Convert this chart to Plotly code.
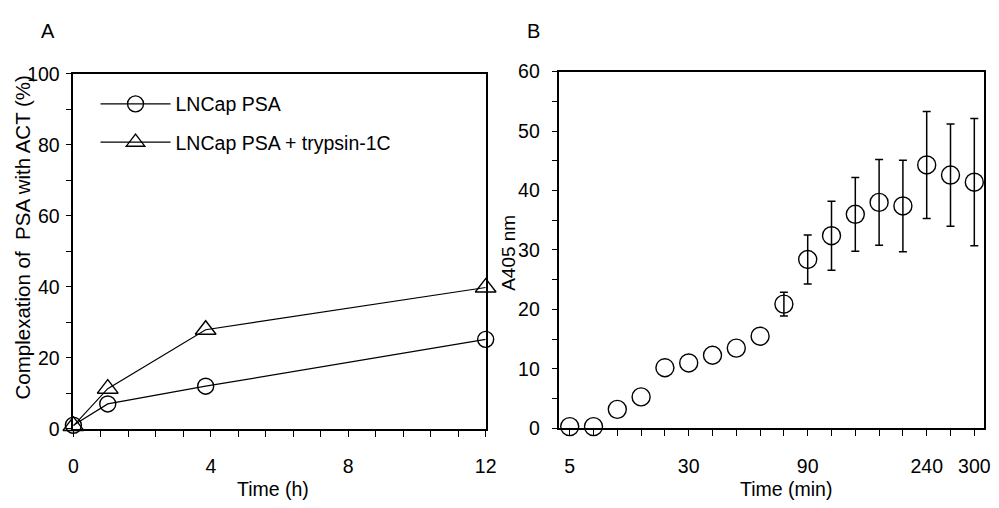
import plotly.graph_objects as go

# ---- Panel A: PSA–ACT complex formation over time ----
hours = [0, 1, 3.85, 12]
psa_lncap = [1.0, 7.0, 12.0, 25.2]
psa_lncap_trypsin = [0.8, 11.3, 27.9, 39.8]
a_xtick_labels = ["0", "4", "8", "12"]
a_xtick_label_pos = [0, 4, 8, 12]

# ---- Panel B: A405 readings at successive sampling times ----
b_sample = list(range(18))
a405 = [0.3, 0.3, 3.2, 5.3, 10.2, 11.0, 12.3, 13.5, 15.5,
        20.9, 28.4, 32.4, 36.0, 38.0, 37.4, 44.3, 42.6, 41.4]
a405_err = [None, None, None, None, None, None, None, None, None,
            2.0, 4.1, 5.8, 6.2, 7.2, 7.7, 9.0, 8.6, 10.7]
b_time_labels = ["5", "30", "90", "240", "300"]
b_time_label_idx = [0, 5, 10, 15, 17]

W, H = 999, 508
FONT = "Liberation Sans, Arial, sans-serif"
BLACK = "#000000"
TICK_SIZE = 19.5


def px_x(p):
    return p / W


def px_y(p):
    return 1 - p / H


fig = go.Figure()

fig.add_trace(go.Scatter(
    x=hours, y=psa_lncap, name="LNCap PSA", legendgroup="a",
    mode="lines+markers", cliponaxis=False,
    line=dict(color=BLACK, width=1.2),
    marker=dict(symbol="circle-open", size=16, color=BLACK, line=dict(width=1.4)),
    xaxis="x", yaxis="y",
))
fig.add_trace(go.Scatter(
    x=hours, y=psa_lncap_trypsin, name="LNCap PSA + trypsin-1C", legendgroup="b",
    mode="lines+markers", cliponaxis=False,
    line=dict(color=BLACK, width=1.2),
    marker=dict(symbol="triangle-up-open", size=18, color=BLACK, line=dict(width=1.4)),
    xaxis="x", yaxis="y",
))

# panel B: samples without a measured spread, then those with error bars
b_plain = [i for i, e in enumerate(a405_err) if e is None]
b_err = [i for i, e in enumerate(a405_err) if e is not None]
b_marker = dict(symbol="circle-open", size=18, color=BLACK, line=dict(width=1.4))

fig.add_trace(go.Scatter(
    x=[b_sample[i] for i in b_plain], y=[a405[i] for i in b_plain],
    mode="markers", showlegend=False, cliponaxis=False, marker=b_marker,
    xaxis="x2", yaxis="y2",
))
fig.add_trace(go.Scatter(
    x=[b_sample[i] for i in b_err], y=[a405[i] for i in b_err],
    mode="markers", showlegend=False, cliponaxis=False, marker=b_marker,
    error_y=dict(type="data", array=[a405_err[i] for i in b_err], visible=True,
                 color=BLACK, thickness=1.5, width=4),
    xaxis="x2", yaxis="y2",
))

# tick positions for panel A x-axis (every 0.8 h, labelled at 0/4/8/12)
a_ticks = [round(0.8 * i, 2) for i in range(16)]
a_ticktext = []
for t in a_ticks:
    lab = ""
    for v, s in zip(a_xtick_label_pos, a_xtick_labels):
        if abs(t - v) < 1e-6:
            lab = s
    a_ticktext.append(lab)

b_ticktext = [""] * len(b_sample)
for i, s in zip(b_time_label_idx, b_time_labels):
    b_ticktext[i] = s

axis_common = dict(
    showline=True, linecolor=BLACK, linewidth=1.6, mirror=True,
    ticks="outside", ticklen=6, tickwidth=1.3, tickcolor=BLACK,
    showgrid=False, zeroline=False,
    tickfont=dict(family=FONT, size=TICK_SIZE, color=BLACK),
)

fig.update_layout(
    width=W, height=H,
    margin=dict(l=0, r=0, t=0, b=0),
    plot_bgcolor="white", paper_bgcolor="white",
    font=dict(family=FONT, size=TICK_SIZE, color=BLACK),
    xaxis=dict(domain=[px_x(69.5), px_x(488.5)], range=[0, 12],
               tickmode="array", tickvals=a_ticks, ticktext=a_ticktext,
               ticklabelstandoff=13, anchor="y", **axis_common),
    yaxis=dict(domain=[px_y(436.7), px_y(65.7)], range=[0, 100],
               tickmode="array", tickvals=list(range(0, 101, 10)),
               ticktext=[str(v) if v % 20 == 0 else "" for v in range(0, 101, 10)],
               ticklabelstandoff=2, anchor="x", **axis_common),
    xaxis2=dict(domain=[px_x(563.5), px_x(995)], range=[-0.43, 17.41],
                tickmode="array", tickvals=b_sample, ticktext=b_ticktext,
                ticklabelstandoff=13, anchor="y2", **axis_common),
    yaxis2=dict(domain=[px_y(436.3), px_y(63.3)], range=[0, 60],
                tickmode="array", tickvals=list(range(0, 61, 5)),
                ticktext=[str(v) if v % 10 == 0 else "" for v in range(0, 61, 5)],
                ticklabelstandoff=8, anchor="x2", **axis_common),
    legend=dict(
        x=px_x(92), y=px_y(77), xanchor="left", yanchor="top",
        bgcolor="rgba(0,0,0,0)", borderwidth=0,
        font=dict(family=FONT, size=TICK_SIZE, color=BLACK),
        traceorder="grouped", tracegroupgap=10, itemwidth=70,
    ),
)

annotations = [
    dict(text="A", x=px_x(44), y=px_y(21), size=20),
    dict(text="B", x=px_x(537), y=px_y(21), size=20),
    dict(text="Time (h)", x=px_x(272), y=px_y(500), size=TICK_SIZE),
    dict(text="Time (min)", x=px_x(794), y=px_y(500), size=TICK_SIZE),
    dict(text="Complexation of \u00a0PSA with ACT (%)", x=px_x(18), y=px_y(237),
         textangle=-90, size=20.5),
    dict(text="A405 nm", x=px_x(511), y=px_y(253), textangle=-90, size=19),
]
for a in annotations:
    size = a.pop("size")
    fig.add_annotation(xref="paper", yref="paper", showarrow=False,
                       xanchor="center", yanchor="middle",
                       font=dict(family=FONT, size=size, color=BLACK), **a)

fig.write_html("out.html")
